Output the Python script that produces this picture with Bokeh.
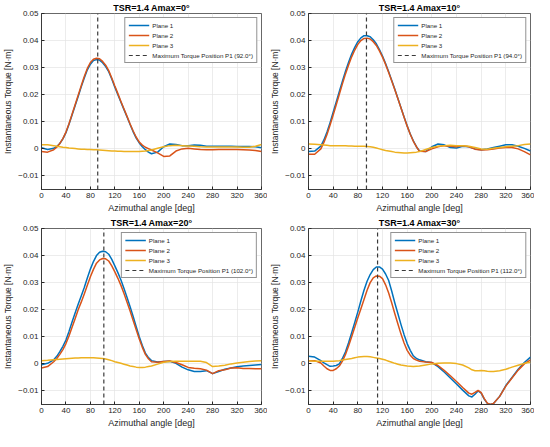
from bokeh.plotting import figure
from bokeh.models import (FixedTicker, CustomJSTickFormatter, Legend, LegendItem, Range1d)
from bokeh.layouts import row, column
from bokeh.embed import file_html
from bokeh.resources import INLINE

# ---------------- data ----------------
# sample angles (finer sampling through the main torque peak)
angles = [0, 10] + list(range(20, 181, 5)) + list(range(190, 361, 10))

a0_plane1 = [0.0004, -0.0002,
             0.0002, 0.0009, 0.0020, 0.0037, 0.0060, 0.0091, 0.0125, 0.0159, 0.0193, 0.0229,
             0.0262, 0.0292, 0.0313, 0.0326, 0.0330, 0.0328, 0.0318, 0.0304, 0.0285, 0.0258,
             0.0228, 0.0200, 0.0172, 0.0145, 0.0118, 0.0090, 0.0063, 0.0040, 0.0022, 0.0008,
             -0.0003, -0.0012, -0.0018,
             -0.0012, 0.0008, 0.0018, 0.0016, 0.0012, 0.0012, 0.0014, 0.0013, 0.0010, 0.0010,
             0.0010, 0.0010, 0.0010, 0.0009, 0.0009, 0.0009, 0.0008, 0.0004]
a0_plane2 = [-0.0010, -0.0012,
             -0.0003, 0.0006, 0.0020, 0.0038, 0.0062, 0.0093, 0.0128, 0.0163, 0.0198, 0.0233,
             0.0267, 0.0297, 0.0319, 0.0331, 0.0335, 0.0333, 0.0323, 0.0309, 0.0289, 0.0262,
             0.0232, 0.0204, 0.0175, 0.0147, 0.0120, 0.0092, 0.0066, 0.0043, 0.0025, 0.0014,
             0.0006, 0.0001, -0.0004,
             -0.0015, -0.0028, -0.0026, -0.0008, 0.0000, 0.0002, 0.0000, -0.0002, -0.0003, -0.0003,
             -0.0002, -0.0002, -0.0002, -0.0002, -0.0003, -0.0004, -0.0006, -0.0010]
a0_plane3 = [0.0015, 0.0015,
             0.0012, 0.0010, 0.0008, 0.0006, 0.0005, 0.0003, 0.0002, 0.0001, 0.0000, -0.0001,
             -0.0001, -0.0002, -0.0002, -0.0003, -0.0003, -0.0004, -0.0005, -0.0006, -0.0007, -0.0008,
             -0.0008, -0.0009, -0.0009, -0.0010, -0.0010, -0.0010, -0.0010, -0.0010, -0.0010, -0.0009,
             -0.0008, -0.0006, -0.0004,
             0.0002, 0.0008, 0.0012, 0.0013, 0.0012, 0.0011, 0.0010, 0.0008, 0.0007, 0.0007,
             0.0007, 0.0007, 0.0007, 0.0007, 0.0006, 0.0006, 0.0010, 0.0016]

a10_plane1 = [-0.0010, -0.0008,
              0.0010, 0.0033, 0.0062, 0.0097, 0.0135, 0.0173, 0.0212, 0.0250, 0.0287, 0.0320,
              0.0350, 0.0375, 0.0396, 0.0410, 0.0418, 0.0418, 0.0414, 0.0403, 0.0388, 0.0367,
              0.0343, 0.0315, 0.0285, 0.0253, 0.0220, 0.0186, 0.0152, 0.0118, 0.0085, 0.0055,
              0.0030, 0.0008, -0.0008,
              -0.0010, 0.0008, 0.0018, 0.0015, 0.0005, 0.0003, 0.0010, 0.0008, 0.0000, -0.0003,
              0.0000, 0.0005, 0.0010, 0.0015, 0.0015, 0.0010, 0.0002, -0.0008]
a10_plane2 = [-0.0020, -0.0020,
              0.0000, 0.0024, 0.0053, 0.0088, 0.0125, 0.0163, 0.0202, 0.0240, 0.0277, 0.0310,
              0.0340, 0.0365, 0.0386, 0.0400, 0.0408, 0.0409, 0.0406, 0.0396, 0.0382, 0.0362,
              0.0339, 0.0312, 0.0282, 0.0251, 0.0218, 0.0185, 0.0151, 0.0117, 0.0084, 0.0054,
              0.0028, 0.0008, -0.0009,
              -0.0010, 0.0000, 0.0008, 0.0012, 0.0010, 0.0008, 0.0012, 0.0008, -0.0001, -0.0004,
              -0.0003, 0.0000, 0.0003, 0.0005, 0.0005, 0.0000, -0.0010, -0.0022]
a10_plane3 = [0.0018, 0.0017,
              0.0015, 0.0014, 0.0013, 0.0012, 0.0012, 0.0012, 0.0012, 0.0012, 0.0012, 0.0011,
              0.0011, 0.0010, 0.0010, 0.0010, 0.0010, 0.0009, 0.0008, 0.0006, 0.0003, 0.0000,
              -0.0003, -0.0006, -0.0008, -0.0010, -0.0012, -0.0013, -0.0014, -0.0015, -0.0015, -0.0014,
              -0.0013, -0.0012, -0.0010,
              -0.0002, 0.0005, 0.0010, 0.0012, 0.0013, 0.0012, 0.0012, 0.0010, 0.0005, 0.0000,
              -0.0001, 0.0002, 0.0005, 0.0008, 0.0010, 0.0012, 0.0016, 0.0018]

a20_plane1 = [-0.0003, 0.0002,
              0.0015, 0.0028, 0.0045, 0.0065, 0.0088, 0.0120, 0.0155, 0.0188, 0.0220, 0.0251,
              0.0282, 0.0317, 0.0350, 0.0378, 0.0400, 0.0412, 0.0416, 0.0414, 0.0405, 0.0386,
              0.0362, 0.0337, 0.0310, 0.0278, 0.0245, 0.0211, 0.0175, 0.0137, 0.0100, 0.0068,
              0.0040, 0.0023, 0.0012,
              0.0007, 0.0009, 0.0010, 0.0002, -0.0012, -0.0022, -0.0028, -0.0028, -0.0025, -0.0036,
              -0.0028, -0.0020, -0.0015, -0.0011, -0.0008, -0.0006, -0.0004, -0.0002]
a20_plane2 = [-0.0015, -0.0010,
              0.0008, 0.0020, 0.0035, 0.0053, 0.0075, 0.0103, 0.0135, 0.0167, 0.0200, 0.0228,
              0.0258, 0.0290, 0.0322, 0.0349, 0.0372, 0.0384, 0.0389, 0.0388, 0.0380, 0.0362,
              0.0340, 0.0316, 0.0290, 0.0260, 0.0228, 0.0195, 0.0160, 0.0126, 0.0092, 0.0061,
              0.0035, 0.0019, 0.0008,
              0.0006, 0.0009, 0.0011, 0.0005, -0.0003, -0.0013, -0.0016, -0.0018, -0.0023, -0.0036,
              -0.0025, -0.0022, -0.0015, -0.0014, -0.0017, -0.0017, -0.0018, -0.0018]
a20_plane3 = [0.0012, 0.0013,
              0.0015, 0.0016, 0.0017, 0.0018, 0.0019, 0.0020, 0.0021, 0.0022, 0.0022, 0.0023,
              0.0023, 0.0023, 0.0023, 0.0023, 0.0022, 0.0021, 0.0020, 0.0018, 0.0015, 0.0012,
              0.0008, 0.0005, 0.0002, -0.0001, -0.0004, -0.0008, -0.0010, -0.0012, -0.0013, -0.0013,
              -0.0012, -0.0010, -0.0008,
              -0.0001, 0.0006, 0.0009, 0.0010, 0.0010, 0.0010, 0.0010, 0.0010, 0.0005, -0.0010,
              -0.0008, -0.0005, 0.0000, 0.0003, 0.0006, 0.0009, 0.0011, 0.0012]

angles_a30 = ([0, 10] + list(range(20, 181, 5)) + list(range(190, 251, 10))
              + list(range(260, 301, 5)) + list(range(310, 361, 10)))
a30_plane1 = [0.0028, 0.0025,
              0.0012, 0.0004, -0.0003, -0.0009, -0.0008, -0.0006, 0.0000, 0.0020, 0.0045, 0.0078,
              0.0115, 0.0153, 0.0192, 0.0233, 0.0272, 0.0305, 0.0330, 0.0348, 0.0358, 0.0358,
              0.0350, 0.0332, 0.0308, 0.0268, 0.0225, 0.0185, 0.0145, 0.0108, 0.0075, 0.0050,
              0.0030, 0.0020, 0.0015,
              0.0008, 0.0005, -0.0010, -0.0030, -0.0052, -0.0074, -0.0097,
              -0.0118, -0.0122, -0.0112, -0.0100, -0.0108, -0.0130, -0.0146, -0.0150, -0.0146,
              -0.0120, -0.0080, -0.0050, -0.0020, 0.0005, 0.0025]
a30_plane2 = [0.0012, 0.0012,
              0.0003, -0.0008, -0.0018, -0.0024, -0.0024, -0.0018, -0.0008, 0.0010, 0.0035, 0.0066,
              0.0100, 0.0135, 0.0170, 0.0204, 0.0238, 0.0272, 0.0300, 0.0318, 0.0325, 0.0324,
              0.0315, 0.0292, 0.0262, 0.0225, 0.0185, 0.0147, 0.0110, 0.0077, 0.0050, 0.0032,
              0.0020, 0.0014, 0.0010,
              0.0007, 0.0005, -0.0006, -0.0024, -0.0044, -0.0065, -0.0087,
              -0.0108, -0.0112, -0.0105, -0.0098, -0.0106, -0.0128, -0.0145, -0.0150, -0.0146,
              -0.0120, -0.0082, -0.0052, -0.0023, 0.0000, 0.0015]
a30_plane3 = [0.0012, 0.0010,
              0.0010, 0.0010, 0.0010, 0.0010, 0.0010, 0.0011, 0.0012, 0.0014, 0.0016, 0.0018,
              0.0020, 0.0023, 0.0025, 0.0026, 0.0027, 0.0027, 0.0026, 0.0024, 0.0022, 0.0020,
              0.0017, 0.0014, 0.0010, 0.0006, 0.0002, -0.0001, -0.0004, -0.0006, -0.0008, -0.0009,
              -0.0010, -0.0009, -0.0008,
              -0.0004, 0.0000, 0.0002, 0.0003, 0.0003, 0.0001, -0.0004,
              -0.0015, -0.0022, -0.0025, -0.0025, -0.0024, -0.0025, -0.0027, -0.0028, -0.0028,
              -0.0025, -0.0020, -0.0012, -0.0005, 0.0002, 0.0006]

titles = ["TSR=1.4 Amax=0°", "TSR=1.4 Amax=10°", "TSR=1.4 Amax=20°", "TSR=1.4 Amax=30°"]
peak_positions = [92.0, 94.0, 102.0, 112.0]
x_ticks = [0, 40, 80, 120, 160, 200, 240, 280, 320, 360]
y_ticks = [-0.01, 0.0, 0.01, 0.02, 0.03, 0.04, 0.05]
x_limits = (0, 360)
y_limits = (-0.015, 0.05)

# ---------------- style ----------------
BLUE = "#0072BD"
ORANGE = "#D95319"
YELLOW = "#EDB120"
DARK = "#262626"
FONT = "Liberation Sans"


def make_panel(title, xs, p1, p2, p3, peak, width, height, border_right):
    p = figure(width=width, height=height, output_backend="svg", toolbar_location=None,
               x_range=Range1d(*x_limits), y_range=Range1d(*y_limits), title=title,
               min_border_top=2, min_border_right=border_right, min_border_bottom=2,
               min_border_left=4)
    p.title.align = "center"
    p.title.text_font = FONT
    p.title.text_font_size = "9px"
    p.title.text_font_style = "bold"
    p.title.text_color = "black"
    p.title.standoff = 1
    p.background_fill_color = "white"
    p.border_fill_color = "white"
    p.outline_line_color = DARK
    p.outline_line_width = 0.7

    p.xaxis.ticker = FixedTicker(ticks=x_ticks)
    p.yaxis.ticker = FixedTicker(ticks=y_ticks)
    p.yaxis.formatter = CustomJSTickFormatter(
        code="return tick == 0 ? '0' : tick.toFixed(2).replace('-', '\u2212');")
    for ax in (p.xaxis, p.yaxis):
        ax.axis_line_color = DARK
        ax.axis_line_width = 0.7
        ax.major_tick_in = 3
        ax.major_tick_out = 0
        ax.minor_tick_line_color = None
        ax.major_tick_line_color = DARK
        ax.major_label_text_font = FONT
        ax.major_label_text_font_size = "8px"
        ax.major_label_text_color = DARK
        ax.major_label_standoff = 3
        ax.axis_label_text_font = FONT
        ax.axis_label_text_font_style = "normal"
        ax.axis_label_text_color = DARK
        ax.axis_label_standoff = 2
    p.xaxis.axis_label = "Azimuthal angle [deg]"
    p.xaxis.axis_label_text_font_size = "9px"
    p.yaxis.axis_label = "Instantaneous Torque [N·m]"
    p.yaxis.axis_label_text_font_size = "8.5px"
    p.grid.grid_line_color = "#e4e4e4"
    p.grid.grid_line_width = 0.7

    r1 = p.line(xs, p1, line_color=BLUE, line_width=1.5, line_join="round")
    r2 = p.line(xs, p2, line_color=ORANGE, line_width=1.5, line_join="round")
    r3 = p.line(xs, p3, line_color=YELLOW, line_width=1.5, line_join="round")
    rd = p.segment(x0=[peak], y0=[y_limits[0]], x1=[peak], y1=[y_limits[1]],
                   line_color="#3a3a3a", line_width=1.2, line_dash="4 3")

    legend = Legend(items=[
        LegendItem(label="Plane 1", renderers=[r1]),
        LegendItem(label="Plane 2", renderers=[r2]),
        LegendItem(label="Plane 3", renderers=[r3]),
        LegendItem(label="Maximum Torque Position P1 (%.1f°)" % peak, renderers=[rd]),
    ], location="top_right")
    legend.label_text_font = FONT
    legend.label_text_font_size = "6.2px"
    legend.label_text_color = DARK
    legend.label_height = 8
    legend.glyph_height = 8
    legend.glyph_width = 21
    legend.label_standoff = 3
    legend.spacing = 2
    legend.padding = 3
    legend.margin = 4
    legend.border_line_color = DARK
    legend.border_line_width = 0.6
    legend.background_fill_color = "white"
    legend.background_fill_alpha = 1.0
    p.add_layout(legend)
    return p


f1 = make_panel(titles[0], angles, a0_plane1, a0_plane2, a0_plane3, peak_positions[0], 267, 215, 6)
f2 = make_panel(titles[1], angles, a10_plane1, a10_plane2, a10_plane3, peak_positions[1], 267, 215, 4)
f3 = make_panel(titles[2], angles, a20_plane1, a20_plane2, a20_plane3, peak_positions[2], 267, 215, 6)
f4 = make_panel(titles[3], angles_a30, a30_plane1, a30_plane2, a30_plane3, peak_positions[3], 267, 215, 4)

layout = column(row(f1, f2), row(f3, f4))
open("out.html", "w").write(file_html(layout, INLINE))
